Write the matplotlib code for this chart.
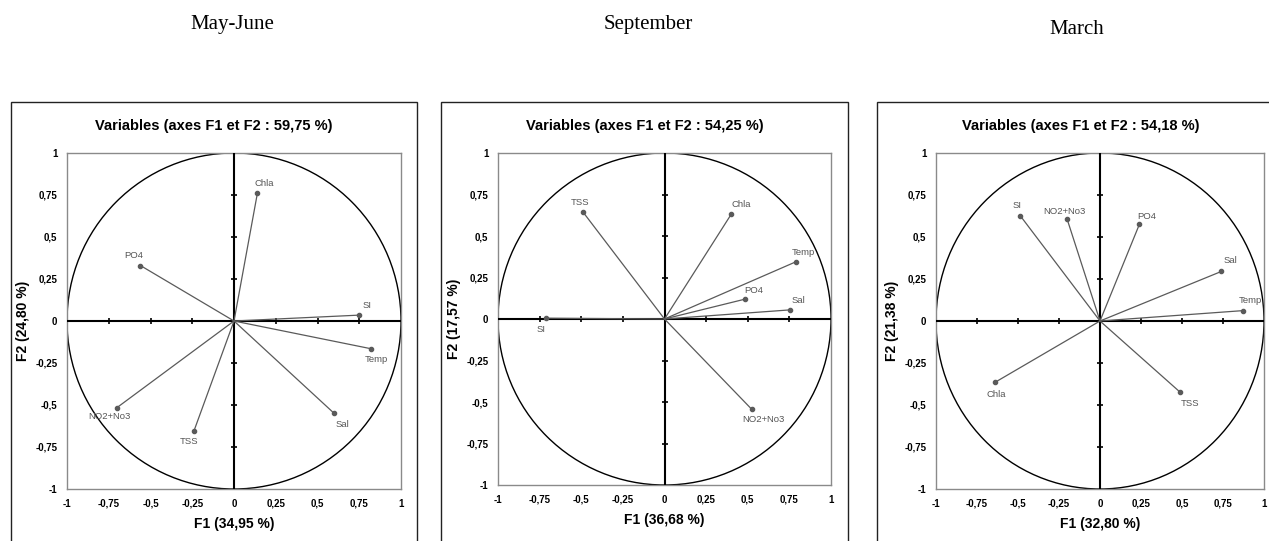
#!/usr/bin/env python3
"""
Correlation circles (F1/F2) for three sampling periods — recreated with matplotlib.
"""
import matplotlib
matplotlib.use("Agg")
import matplotlib.pyplot as plt
from matplotlib.patches import Circle, Rectangle

W, H, DPI = 1269, 541, 100

# ---- data -----------------------------------------------------------------
seasons = ["May-June", "September", "March"]
totals = ["59,75", "54,25", "54,18"]
f1_pct = ["34,95", "36,68", "32,80"]
f2_pct = ["24,80", "17,57", "21,38"]

may_vars = ["Chla", "PO4", "SI", "Temp", "Sal", "TSS", "NO2+No3"]
may_f1 = [0.14, -0.56, 0.75, 0.82, 0.60, -0.24, -0.70]
may_f2 = [0.76, 0.33, 0.035, -0.165, -0.55, -0.655, -0.515]

sep_vars = ["TSS", "Chla", "Temp", "PO4", "Sal", "NO2+No3", "SI"]
sep_f1 = [-0.49, 0.40, 0.79, 0.485, 0.755, 0.525, -0.71]
sep_f2 = [0.645, 0.63, 0.345, 0.12, 0.055, -0.545, 0.005]

mar_vars = ["SI", "NO2+No3", "PO4", "Sal", "Temp", "Chla", "TSS"]
mar_f1 = [-0.485, -0.20, 0.24, 0.74, 0.875, -0.64, 0.49]
mar_f2 = [0.625, 0.605, 0.575, 0.295, 0.062, -0.365, -0.425]

ticks = [-1, -0.75, -0.5, -0.25, 0, 0.25, 0.5, 0.75, 1]
tick_labels = ["-1", "-0,75", "-0,5", "-0,25", "0", "0,25", "0,5", "0,75", "1"]

# label offsets (pixels) from each arrow tip
may_off = [(7, 10), (-7, 10), (8, 10), (5, -11), (8, -11), (-5, -10), (-8, -9)]
sep_off = [(-3, 9), (10, 10), (7, 9), (8, 9), (8, 9), (11, -10), (-5, -11)]
mar_off = [(-3, 10), (-3, 8), (7, 8), (9, 11), (7, 10), (1, -12), (10, -11)]

# ---- layout (pixel boxes) ---------------------------------------------------
axes_px = [(67, 153, 401, 489), (498, 153, 831, 485), (936, 153, 1264, 489)]
frames_px = [(11, 102, 417, 560), (441, 102, 848, 560), (877, 102, 1285, 560)]
month_xy = [(232, 25), (648, 24), (1077, 30)]

LINE = "#5a5a5a"
SANS = ["Liberation Sans", "DejaVu Sans"]

fig = plt.figure(figsize=(W / DPI, H / DPI), dpi=DPI)
fig.patch.set_facecolor("white")


def fx(px):
    return px / W


def fy(py):
    return 1 - py / H


panels = [
    (may_vars, may_f1, may_f2, may_off),
    (sep_vars, sep_f1, sep_f2, sep_off),
    (mar_vars, mar_f1, mar_f2, mar_off),
]

for i, (names, xs, ys, offs) in enumerate(panels):
    l, t, r, b = axes_px[i]
    ax = fig.add_axes([fx(l), fy(b), fx(r - l), (b - t) / H])
    ax.set_xlim(-1, 1)
    ax.set_ylim(-1, 1)
    for s in ax.spines.values():
        s.set_color("#8a8a8a")
        s.set_linewidth(1.0)

    ax.set_xticks(ticks)
    ax.set_yticks(ticks)
    ax.set_xticklabels(tick_labels, fontsize=7, fontweight="bold", family=SANS)
    ax.set_yticklabels(tick_labels, fontsize=7, fontweight="bold", family=SANS)
    ax.tick_params(length=0, pad=7)

    # unit circle + crosshair
    ax.add_patch(Circle((0, 0), 1, fill=False, color="black", lw=1.0, zorder=2))
    ax.axhline(0, color="black", lw=1.5, zorder=3)
    ax.axvline(0, color="black", lw=1.5, zorder=3)
    inner = [v for v in ticks if v not in (-1, 0, 1)]
    ax.scatter(inner, [0] * len(inner), marker="|", s=18, color="black", lw=1.2, zorder=3)
    ax.scatter([0] * len(inner), inner, marker="_", s=18, color="black", lw=1.2, zorder=3)

    # variable vectors
    for name, x, y, (dx, dy) in zip(names, xs, ys, offs):
        ax.plot([0, x], [0, y], color=LINE, lw=0.9, zorder=4)
        ax.plot(x, y, "o", color=LINE, ms=3, zorder=5)
        ax.annotate(name, (x, y), xytext=(dx, dy), textcoords="offset pixels",
                    ha="center", va="center", fontsize=6.8, color="#555555",
                    family=SANS, zorder=6)

    ax.set_xlabel(f"F1 ({f1_pct[i]} %)", fontsize=10, fontweight="bold",
                  family=SANS, labelpad=6)
    ax.set_ylabel(f"F2 ({f2_pct[i]} %)", fontsize=10, fontweight="bold",
                  family=SANS, labelpad=4)

    fl, ft, fr, fb = frames_px[i]
    fig.patches.append(Rectangle((fx(fl), fy(fb)), fx(fr - fl), (fb - ft) / H,
                                 transform=fig.transFigure, fill=False,
                                 edgecolor="#222222", lw=1.0, clip_on=False))
    fig.text(fx((fl + fr) / 2), fy(126), f"Variables (axes F1 et F2 : {totals[i]} %)",
             ha="center", va="center", fontsize=10.5, fontweight="bold", family=SANS)

    mx, my = month_xy[i]
    fig.text(fx(mx), fy(my), seasons[i], ha="center", va="center", fontsize=15,
             family=["Liberation Serif", "DejaVu Serif"])

fig.savefig("out.png", dpi=DPI, facecolor="white")
